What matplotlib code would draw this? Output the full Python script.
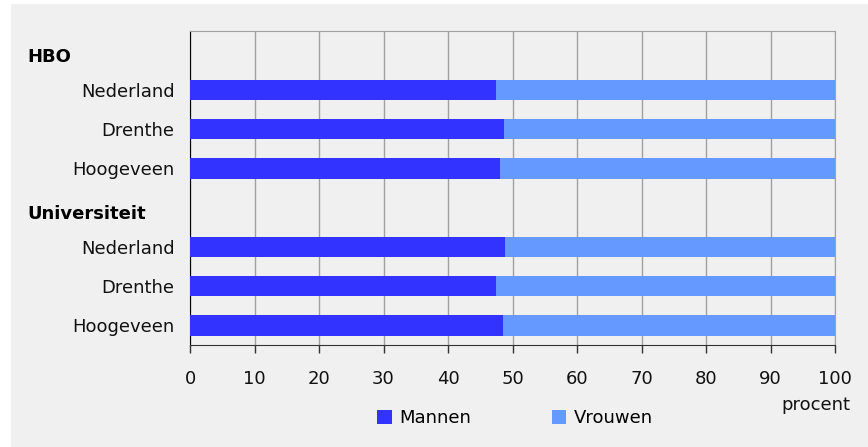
import matplotlib
matplotlib.use("Agg")
import matplotlib.pyplot as plt
from matplotlib.patches import Rectangle
import matplotlib.transforms as mtransforms

groups = ["HBO", "Universiteit"]
regions = ["Nederland", "Drenthe", "Hoogeveen"]
mannen = {"HBO": [47.5, 48.7, 48.0], "Universiteit": [48.9, 47.5, 48.5]}
vrouwen = {g: [100 - v for v in mannen[g]] for g in groups}
xticks = [0, 10, 20, 30, 40, 50, 60, 70, 80, 90, 100]

c_m = "#3333ff"
c_v = "#6699ff"

W, H = 868, 447
fig = plt.figure(figsize=(W / 100, H / 100), dpi=100, facecolor="white")
fig.patches.append(Rectangle((11 / W, 0), 1 - 11 / W, 1 - 4 / H, transform=fig.transFigure,
                             facecolor="#f0f0f0", edgecolor="none", zorder=-10))

ax = fig.add_axes([190 / W, 1 - 345 / H, (835 - 190) / W, (345 - 31) / H])
ax.set_facecolor("#f0f0f0")

ypos, labels, mvals, vvals, gpos = [], [], [], [], []
row = 0
for g in groups:
    gpos.append(row)
    row += 1
    for r, m, v in zip(regions, mannen[g], vrouwen[g]):
        ypos.append(row)
        labels.append(r)
        mvals.append(m)
        vvals.append(v)
        row += 1

ax.barh(ypos, mvals, height=0.52, color=c_m, label="Mannen", zorder=3)
ax.barh(ypos, vvals, left=mvals, height=0.52, color=c_v, label="Vrouwen", zorder=3)

ax.set_ylim(row - 0.5, -0.5)
ax.set_xlim(0, 100)
ax.set_xticks(xticks)
ax.set_xticklabels([str(t) for t in xticks], fontsize=13, color="#111111")
ax.set_yticks(ypos)
ax.set_yticklabels(labels, fontsize=13, color="#111111")
ax.tick_params(axis="y", length=0, pad=11)
ax.tick_params(axis="x", length=6, width=1, color="#333333", pad=12)
ax.grid(axis="x", color="#a0a0a0", linewidth=1, zorder=0)

for s in ["top", "right"]:
    ax.spines[s].set_color("#a0a0a0")
ax.spines["left"].set_color("#000000")
ax.spines["bottom"].set_color("#333333")

trans = mtransforms.blended_transform_factory(fig.transFigure, ax.transData)
for g, gp in zip(groups, gpos):
    ax.text(27 / W, gp + 0.15, g, transform=trans, fontsize=13, fontweight="bold",
            ha="left", va="center", color="#000000")

fig.text(850 / W, 1 - 405 / H, "procent", fontsize=13, ha="right", va="center", color="#111111")

leg = fig.legend(loc="center", bbox_to_anchor=(515 / W, 1 - 418 / H), ncol=2, frameon=False,
                 fontsize=13, handlelength=0.8, handleheight=0.8, columnspacing=4.5,
                 handletextpad=0.4)

fig.savefig("out.png", dpi=100, facecolor="white")
